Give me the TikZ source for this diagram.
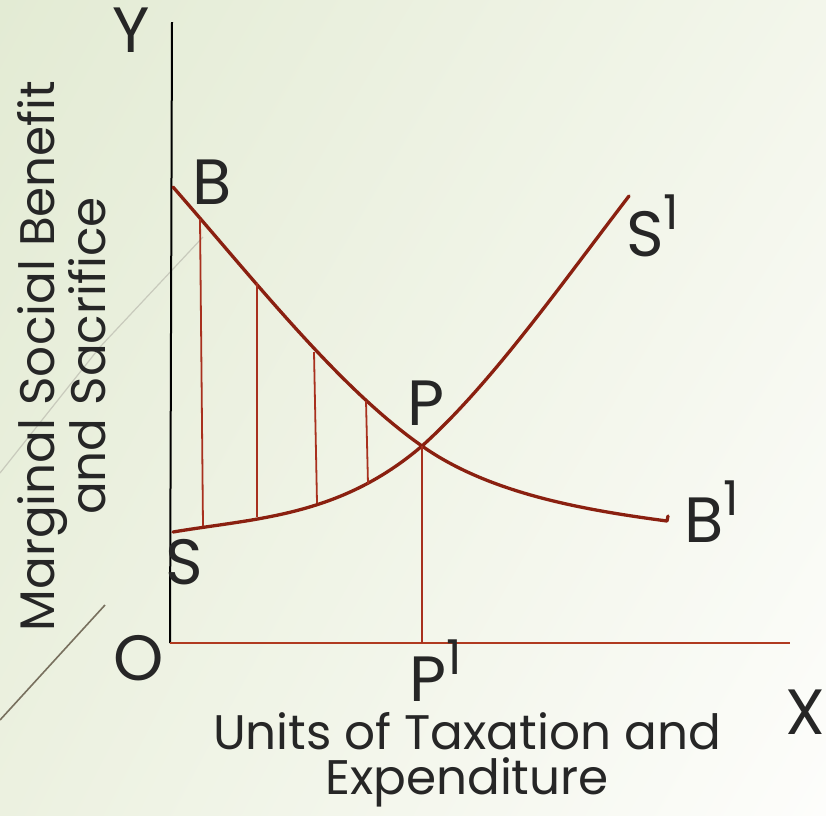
\documentclass[tikz,border=0pt]{standalone}
\usepackage{fontspec}
\usetikzlibrary{shadings}
\setmainfont{Poppins}
\definecolor{curve}{RGB}{138,32,16}
\definecolor{vline}{RGB}{168,48,30}
\definecolor{xaxis}{RGB}{176,58,32}
\definecolor{ink}{RGB}{38,38,38}
\definecolor{bgTL}{RGB}{227,235,212}
\definecolor{bgTR}{RGB}{243,246,235}
\definecolor{bgBL}{RGB}{236,241,224}
\definecolor{bgBR}{RGB}{253,253,251}
\tikzset{
  lbl/.style={text=ink, font=\fontsize{64}{64}\selectfont, inner sep=0pt},
  ttl/.style={text=ink, font=\fontsize{48.5}{45}\selectfont, align=center, inner sep=0pt},
  crv/.style={draw=curve, line width=3.3pt, line cap=round, line join=round},
  hatch/.style={draw=vline, line width=1.8pt},
}
\newcommand{\supone}{\raisebox{0.42em}{\fontsize{48}{48}\selectfont 1}}
\begin{document}
\begin{tikzpicture}[x=1pt,y=-1pt]
\useasboundingbox (0,0) rectangle (826,815);
\shade[upper left=bgTL, upper right=bgTR, lower left=bgBL, lower right=bgBR] (0,0) rectangle (826,815);
% decorative lines
\draw[color={rgb,255:red,200;green,202;blue,188}, line width=1.2pt] (0,473) -- (100,347) -- (203,237);
\draw[color={rgb,255:red,120;green,112;blue,94}, line width=1.6pt] (0,720) -- (105,605);
% axes
\coordinate (O) at (170,643);
\coordinate (Ytop) at (172,22);
\coordinate (Xend) at (790,643);
\draw[black, line width=2pt] (O) -- (Ytop);
\draw[xaxis, line width=2pt] (O) -- (Xend);
% key points
\coordinate (P) at (422,446);
\coordinate (P1) at (422,643);
\coordinate (Bs) at (173,187);
\coordinate (Be) at (667,521);
\coordinate (Bh) at (668,516);
\coordinate (Ss) at (173,532);
\coordinate (Se) at (629,196);
% B curve
\draw[crv] (Bs) .. controls (256,282) and (339,388) .. (P)
  .. controls (490,494) and (585,510) .. (Be) -- (Bh);
% S curve
\draw[crv] (Ss) .. controls (256,518) and (339,517) .. (P)
  .. controls (491,384) and (560,286) .. (Se);
% hatch lines
\coordinate (h1t) at (200,219); \coordinate (h1b) at (203,526);
\coordinate (h2t) at (257,283); \coordinate (h2b) at (257,517);
\coordinate (h3t) at (314,352); \coordinate (h3b) at (317,503);
\coordinate (h4t) at (366,401); \coordinate (h4b) at (368,484);
\draw[hatch] (h1t) -- (h1b);
\draw[hatch] (h2t) -- (h2b);
\draw[hatch] (h3t) -- (h3b);
\draw[hatch] (h4t) -- (h4b);
\draw[hatch] (P) -- (P1);
% labels
\node[lbl] (Y) at (131,30) {Y};
\node[lbl] (X) at (805,712) {X};
\node[lbl] (Ol) at (139,658) {O};
\node[lbl] (B) at (212,182) {B};
\node[lbl] (S) at (184,562) {S};
\node[lbl] (Pl) at (426,403) {P};
\node[lbl, anchor=base west] (P1l) at (409,701) {P\supone};
\node[lbl, anchor=base west] (S1l) at (626,256) {S\supone};
\node[lbl, anchor=base west] (B1l) at (684,542) {B\supone};
\node[ttl] (xt) at (467,760) {Units of Taxation and\\Expenditure};
\node[ttl, rotate=90] (yt) at (62,356) {Marginal Social Benefit\\and Sacrifice};
\end{tikzpicture}
\end{document}
